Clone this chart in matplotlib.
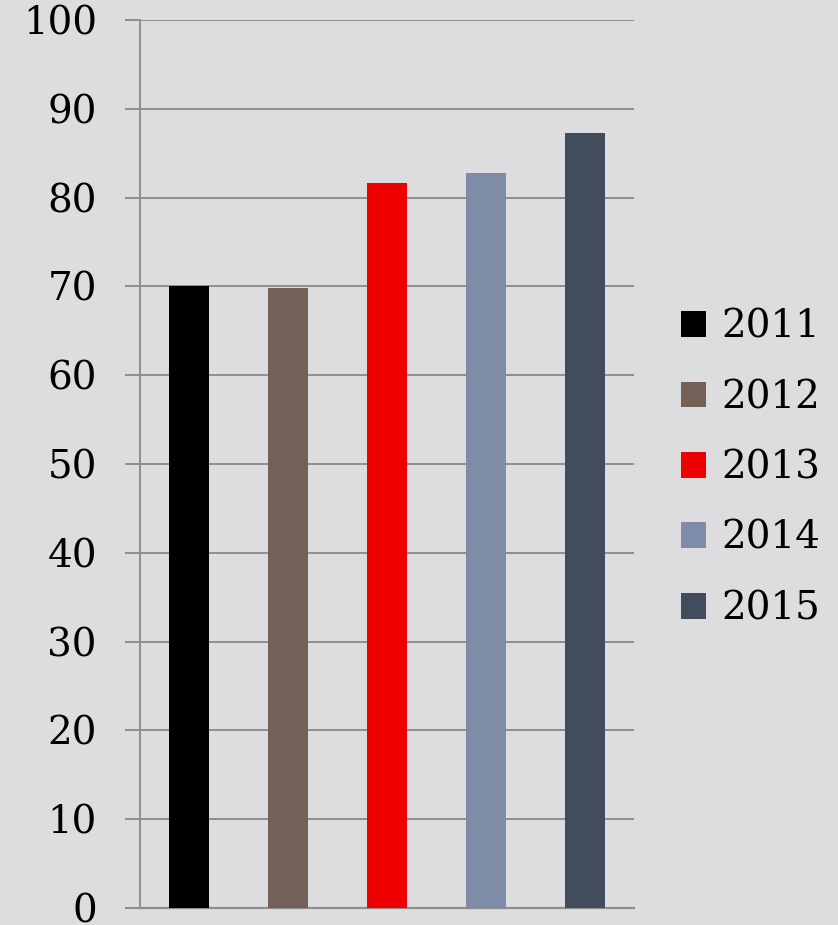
import matplotlib.pyplot as plt
from matplotlib.patches import Patch

years = ['2011', '2012', '2013', '2014', '2015']
values = [70.0, 69.8, 81.6, 82.8, 87.3]
colors = ['#000000', '#736056', '#ee0000', '#7f8ca8', '#414d5c']
yticks = [0, 10, 20, 30, 40, 50, 60, 70, 80, 90, 100]

bg = '#dddde0'
grid = '#8e8e8e'

plt.rcParams['font.family'] = ['DejaVu Serif']

fig = plt.figure(figsize=(8.38, 9.25), dpi=100, facecolor=bg)
ax = fig.add_axes([0.1671, 0.01838, 0.7566 - 0.1671, 0.9784 - 0.01838])
ax.set_facecolor(bg)

xs = range(len(years))
ax.bar(xs, values, width=0.405, color=colors, zorder=3)

ax.set_xlim(-0.5, len(years) - 0.5)
ax.set_ylim(0, 100)
ax.set_yticks(yticks)
ax.set_xticks([])
ax.yaxis.grid(True, color=grid, linewidth=1.4, zorder=0)
ax.set_axisbelow(True)

for s in ['top', 'right']:
    ax.spines[s].set_visible(False)
ax.spines['left'].set_color(grid)
ax.spines['left'].set_linewidth(1.4)
ax.spines['bottom'].set_color(grid)
ax.spines['bottom'].set_linewidth(1.6)
ax.tick_params(axis='y', length=11, width=1.4, color=grid, pad=20,
               labelsize=28, labelcolor='black')

handles = [Patch(facecolor=c, edgecolor='none') for c in colors]
fig.legend(handles, years, loc='center left', bbox_to_anchor=(0.813, 0.494),
           frameon=False, fontsize=28, handlelength=0.64, handleheight=0.64,
           handletextpad=0.38, labelspacing=0.86, borderaxespad=0, borderpad=0)

fig.savefig('out.png', dpi=100, facecolor=bg)
